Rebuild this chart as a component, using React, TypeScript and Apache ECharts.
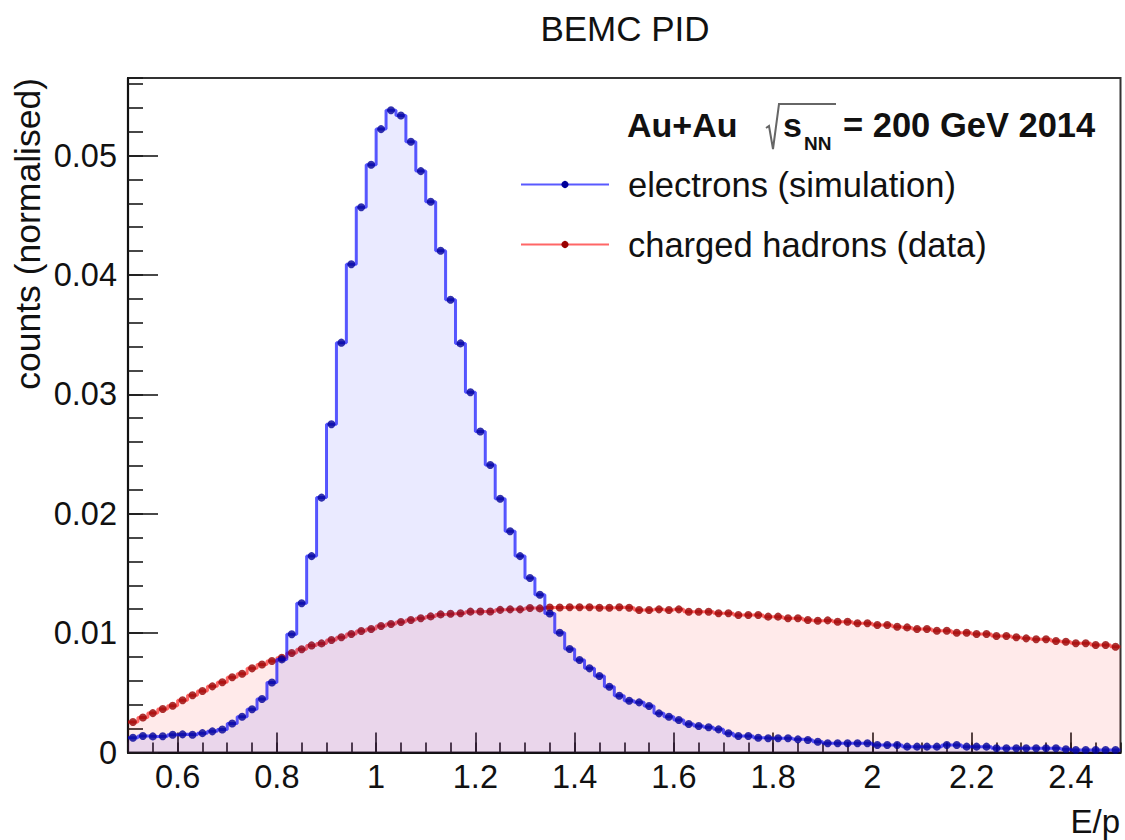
import React, { useEffect, useRef } from "react";
import * as echarts from "echarts";

// ---- data ----
const X_MIN = 0.5;
const X_MAX = 2.5;
const BIN_WIDTH = 0.02;

// electrons (simulation), 100 bins of width 0.02 from 0.5 to 2.5
const electrons = [
  0.00123, 0.00138, 0.00135, 0.00136, 0.00148, 0.00152, 0.00148, 0.00162, 0.00177, 0.00193,
  0.00243, 0.003, 0.00362, 0.00448, 0.00586, 0.0078, 0.0099, 0.0125, 0.01645, 0.02135,
  0.0275, 0.03433, 0.0409, 0.04568, 0.04924, 0.05222, 0.0538, 0.05336, 0.05116, 0.0487,
  0.04613, 0.04203, 0.03792, 0.03427, 0.03017, 0.02689, 0.02408, 0.02126, 0.01853, 0.01645,
  0.01462, 0.01322, 0.01165, 0.01003, 0.00867, 0.00775, 0.00705, 0.00641, 0.00551, 0.00476,
  0.00434, 0.0042, 0.00389, 0.00328, 0.003, 0.00272, 0.00239, 0.00222, 0.00211, 0.00194,
  0.00161, 0.00138, 0.00138, 0.00124, 0.00119, 0.00119, 0.00119, 0.0011, 0.00105, 0.0009,
  0.00077, 0.00077, 0.00077, 0.00077, 0.00077, 0.00063, 0.00063, 0.00063, 0.00049, 0.00049,
  0.00049, 0.00049, 0.00063, 0.00063, 0.00049, 0.00049, 0.00049, 0.00035, 0.00035, 0.00035,
  0.00035, 0.00035, 0.00035, 0.00035, 0.00027, 0.00021, 0.00021, 0.00021, 0.00021, 0.00021,
];

// charged hadrons (data)
const hadrons = [
  0.00255, 0.00293, 0.0033, 0.00364, 0.00392, 0.00437, 0.00479, 0.00515, 0.00554, 0.00589,
  0.0063, 0.0066, 0.00705, 0.00737, 0.00766, 0.00794, 0.00833, 0.00865, 0.00897, 0.00914,
  0.00942, 0.00965, 0.00992, 0.01018, 0.01034, 0.0106, 0.01076, 0.01093, 0.0111, 0.01125,
  0.0114, 0.01157, 0.01162, 0.01167, 0.0118, 0.01181, 0.01181, 0.01195, 0.01199, 0.01199,
  0.0121, 0.01207, 0.01214, 0.01214, 0.01216, 0.01216, 0.01216, 0.01213, 0.01213, 0.01216,
  0.01213, 0.01193, 0.01193, 0.01199, 0.01193, 0.01199, 0.01179, 0.01179, 0.01179, 0.01166,
  0.01166, 0.01152, 0.01152, 0.01152, 0.01138, 0.01138, 0.01124, 0.01124, 0.0111, 0.01104,
  0.01107, 0.01095, 0.01095, 0.01082, 0.01082, 0.01068, 0.01068, 0.01054, 0.01048, 0.01034,
  0.01034, 0.0102, 0.0102, 0.01003, 0.01003, 0.00992, 0.00992, 0.00976, 0.00976, 0.00965,
  0.00956, 0.00948, 0.00948, 0.00934, 0.00928, 0.00915, 0.00915, 0.009, 0.009, 0.00886,
];

const seriesNames = ["electrons (simulation)", "charged hadrons (data)"];
const Y_MAX = 0.0565;

// ---- helpers building library data from the arrays ----
const binCenters = electrons.map((_, i) => +(X_MIN + BIN_WIDTH * (i + 0.5)).toFixed(4));
const binEdges = [...electrons.map((_, i) => +(X_MIN + BIN_WIDTH * i).toFixed(4)), X_MAX];
const stepData = (vals: number[]) => binEdges.map((e, i) => [e, vals[Math.min(i, vals.length - 1)]]);
const pointData = (vals: number[]) => vals.map((v, i) => [binCenters[i], v]);

const FONT = "'Liberation Sans', Arial, Helvetica, sans-serif";
const TXT = "#111";

export default function App() {
  const ref = useRef<HTMLDivElement>(null);
  useEffect(() => {
    if (!ref.current) return;
    const chart = echarts.init(ref.current, null, { renderer: "svg" });
    const tickLine = { color: "#1a1a1a", width: 1.6 };
    const legendBase = {
      left: 520,
      padding: 0,
      orient: "vertical",
      itemWidth: 88,
      itemHeight: 9,
      selectedMode: false,
      textStyle: { fontFamily: FONT, fontSize: 34.5, color: TXT, padding: [0, 0, 0, 14] },
    };
    const option: any = {
      animation: false,
      backgroundColor: "#fff",
      title: {
        text: "BEMC PID",
        left: 620,
        top: 6,
        textAlign: "center",
        textStyle: { fontFamily: FONT, fontSize: 35, fontWeight: "normal", color: TXT },
      },
      grid: {
        left: 128,
        right: 4.5,
        top: 78,
        bottom: 87.5,
        show: true,
        borderColor: "#333",
        borderWidth: 2,
        outerBoundsMode: "none",
      },
      legend: [
        { ...legendBase, top: 167, data: [seriesNames[0]] },
        { ...legendBase, top: 227, data: [seriesNames[1]] },
      ],
      xAxis: [
        {
          type: "value",
          min: X_MIN,
          max: X_MAX,
          interval: 0.05,
          position: "bottom",
          axisLine: { show: true, lineStyle: { color: "#111", width: 2.2 } },
          axisTick: { show: true, inside: true, length: 10, lineStyle: tickLine },
          axisLabel: { show: false },
          splitLine: { show: false },
        },
        {
          type: "value",
          min: X_MIN,
          max: X_MAX,
          splitNumber: 10,
          position: "bottom",
          offset: 0,
          axisLine: { show: false },
          axisTick: { show: true, inside: true, length: 20, lineStyle: tickLine },
          axisLabel: {
            show: true,
            showMinLabel: false,
            showMaxLabel: false,
            margin: 8,
            fontFamily: FONT,
            fontSize: 32.5,
            color: TXT,
          },
          splitLine: { show: false },
        },
      ],
      yAxis: [
        {
          type: "value",
          min: 0,
          max: Y_MAX,
          interval: 0.002,
          position: "left",
          axisLine: { show: true, lineStyle: { color: "#111", width: 2.2 } },
          axisTick: { show: true, inside: true, length: 15, lineStyle: tickLine },
          axisLabel: { show: false },
          splitLine: { show: false },
        },
        {
          type: "value",
          min: 0,
          max: Y_MAX,
          interval: 0.01,
          position: "left",
          offset: 0,
          axisLine: { show: false },
          axisTick: { show: true, inside: true, length: 30, lineStyle: tickLine },
          axisLabel: {
            show: true,
            showMaxLabel: false,
            margin: 11,
            fontFamily: FONT,
            fontSize: 32.5,
            color: TXT,
          },
          splitLine: { show: false },
        },
      ],
      series: [
        {
          name: seriesNames[1],
          type: "line",
          step: "end",
          xAxisIndex: 0,
          yAxisIndex: 0,
          data: stepData(hadrons),
          symbol: "none",
          lineStyle: { color: "rgba(255,0,0,0.6)", width: 3 },
          itemStyle: { color: "#990000" },
          areaStyle: { color: "rgba(255,0,0,0.12)" },
          z: 2,
        },
        {
          name: "hadron points",
          type: "scatter",
          xAxisIndex: 0,
          yAxisIndex: 0,
          data: pointData(hadrons),
          symbol: "circle",
          symbolSize: 8,
          itemStyle: { color: "#990000" },
          z: 3,
        },
        {
          name: seriesNames[0],
          type: "line",
          step: "end",
          xAxisIndex: 0,
          yAxisIndex: 0,
          data: stepData(electrons),
          symbol: "none",
          lineStyle: { color: "rgba(0,0,255,0.65)", width: 3 },
          itemStyle: { color: "#000099" },
          areaStyle: { color: "rgba(0,0,255,0.12)" },
          z: 4,
        },
        {
          name: "electron points",
          type: "scatter",
          xAxisIndex: 0,
          yAxisIndex: 0,
          data: pointData(electrons),
          symbol: "circle",
          symbolSize: 8,
          itemStyle: { color: "#000099" },
          z: 5,
        },
      ],
      graphic: [
        {
          type: "text",
          x: 28,
          y: 78,
          rotation: Math.PI / 2,
          style: {
            text: "counts (normalised)",
            align: "right",
            verticalAlign: "middle",
            fontFamily: FONT,
            fontSize: 35.5,
            fill: TXT,
          },
        },
        {
          type: "text",
          x: 1120,
          y: 821,
          style: {
            text: "E/p",
            align: "right",
            verticalAlign: "middle",
            fontFamily: FONT,
            fontSize: 33,
            fill: TXT,
          },
        },
        {
          type: "text",
          x: 627,
          y: 125,
          style: { text: "Au+Au", align: "left", verticalAlign: "middle", fontFamily: FONT, fontSize: 34, fontWeight: "bold", fill: TXT },
        },
        {
          type: "polyline",
          shape: { points: [[766, 128], [769, 126], [773, 149], [779, 104], [836, 104]] },
          style: { stroke: "#666", lineWidth: 2, fill: "none" },
        },
        {
          type: "text",
          x: 783,
          y: 125,
          style: { text: "s", align: "left", verticalAlign: "middle", fontFamily: FONT, fontSize: 34, fontWeight: "bold", fill: TXT },
        },
        {
          type: "text",
          x: 804,
          y: 143,
          style: { text: "NN", align: "left", verticalAlign: "middle", fontFamily: FONT, fontSize: 19, fontWeight: "bold", fill: TXT },
        },
        {
          type: "text",
          x: 843,
          y: 125,
          style: { text: "= 200 GeV 2014", align: "left", verticalAlign: "middle", fontFamily: FONT, fontSize: 34.5, fontWeight: "bold", fill: TXT },
        },
      ],
    };
    chart.setOption(option);
    return () => chart.dispose();
  }, []);
  return (
    <div
      ref={ref}
      style={{ position: "fixed", left: 0, top: 0, width: 1125, height: 840, background: "#fff" }}
    />
  );
}
